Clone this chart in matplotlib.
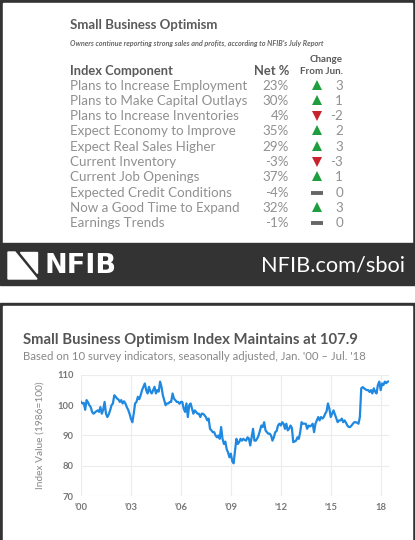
import matplotlib
matplotlib.use('Agg')
import matplotlib.pyplot as plt
from matplotlib.patches import Rectangle, Polygon
import numpy as np

plt.rcParams['font.family'] = ['Lato', 'DejaVu Sans']

# table data
components = ['Plans to Increase Employment', 'Plans to Make Capital Outlays',
              'Plans to Increase Inventories', 'Expect Economy to Improve',
              'Expect Real Sales Higher', 'Current Inventory',
              'Current Job Openings', 'Expected Credit Conditions',
              'Now a Good Time to Expand', 'Earnings Trends']
net_pct = [23, 30, 4, 35, 29, -3, 37, -4, 32, -1]
change = [3, 1, -2, 2, 3, -3, 1, 0, 3, 0]

# monthly index values, Jan 2000 - Jul 2018
idx = {
    2000: [101.1, 100.6, 100.8, 98.5, 101.7, 101.0, 100.0, 99.4, 97.8, 97.2, 97.6, 98.0],
    2001: [98.3, 97.8, 99.4, 97.2, 98.5, 101.1, 97.2, 96.1, 97.0, 98.3, 100.0, 100.6],
    2002: [103.3, 102.8, 102.2, 101.9, 101.1, 101.7, 100.6, 101.3, 100.6, 99.4, 98.5, 97.2],
    2003: [95.5, 94.4, 97.2, 100.6, 101.1, 102.8, 102.0, 103.3, 105.0, 106.1, 107.2, 105.0],
    2004: [103.9, 106.1, 104.5, 103.9, 105.0, 106.1, 103.9, 105.0, 104.5, 107.8, 106.1, 103.3],
    2005: [101.7, 100.0, 100.6, 100.6, 101.1, 101.1, 103.9, 102.2, 101.7, 101.1, 101.1, 100.5],
    2006: [101.1, 101.1, 98.9, 97.8, 100.6, 96.1, 100.0, 100.6, 98.9, 97.2, 98.3, 97.8],
    2007: [97.2, 97.2, 96.1, 97.2, 97.2, 96.7, 96.1, 95.0, 95.6, 92.2, 91.7, 91.1],
    2008: [91.1, 90.0, 89.4, 90.0, 88.9, 92.8, 88.9, 87.2, 88.0, 85.5, 84.4, 82.8],
    2009: [84.0, 81.5, 80.8, 85.0, 88.9, 87.2, 87.8, 88.9, 88.3, 88.9, 88.5, 88.3],
    2010: [89.4, 89.0, 86.7, 89.4, 92.2, 88.3, 88.3, 89.0, 90.0, 91.7, 93.3, 92.8],
    2011: [94.4, 91.7, 91.1, 90.6, 90.6, 90.0, 88.3, 89.4, 91.1, 91.5, 93.3, 93.9],
    2012: [93.3, 94.4, 93.9, 92.2, 93.9, 91.7, 92.2, 93.3, 92.5, 87.8, 88.0, 88.3],
    2013: [89.4, 88.9, 91.1, 94.4, 93.9, 93.9, 93.9, 92.2, 93.3, 93.0, 93.3, 93.9],
    2014: [91.1, 93.9, 95.0, 96.1, 95.0, 96.1, 95.6, 96.1, 97.2, 98.0, 100.6, 98.9],
    2015: [96.1, 97.2, 98.3, 97.0, 95.6, 94.4, 95.0, 95.0, 95.6, 94.4, 95.0, 94.2],
    2016: [93.3, 92.8, 92.8, 93.3, 93.9, 94.4, 94.4, 94.2, 93.9, 96.1, 105.6, 106.0],
    2017: [105.6, 105.3, 105.0, 105.0, 104.4, 105.0, 103.9, 105.6, 104.5, 103.9, 106.7, 107.8],
    2018: [105.0, 107.2, 106.7, 107.8, 107.3, 107.8, 107.9],
}
x_ticks = [2000, 2003, 2006, 2009, 2012, 2015, 2018]
x_ticklabels = ["'00", "'03", "'06", "'09", "'12", "'15", "18"]
y_ticks = [70, 80, 90, 100, 110]

W, H = 415, 540
dark = '#333333'
fig = plt.figure(figsize=(W / 100, H / 100), dpi=100)

# background in pixel coordinates
bg = fig.add_axes([0, 0, 1, 1])
bg.set_xlim(0, W)
bg.set_ylim(H, 0)
bg.axis('off')
bg.add_patch(Rectangle((0, 0), W, 243, color=dark))
bg.add_patch(Rectangle((2.5, 2.5), 409.5, 241, color='white'))
bg.add_patch(Rectangle((0, 243), W, 42, color=dark))
bg.add_patch(Rectangle((0, 303), W, 240, color=dark))
bg.add_patch(Rectangle((2.5, 305.5), 409.5, 240, color='white'))

# logo
bg.add_patch(Polygon([(8, 252), (15, 252), (37, 279), (8, 279)], color='white'))
bg.add_patch(Polygon([(20, 252), (37, 252), (37, 273)], color='white'))
bg.text(44, 266, 'NFIB', color='white', fontsize=19.5, fontweight='black',
        va='center', ha='left', family=['DejaVu Sans'])
bg.text(405, 265, 'NFIB.com/sboi', color='white', fontsize=15.7, va='center', ha='right')

# table
bg.text(70, 25, 'Small Business Optimism', color='#5a5a5a', fontsize=9.5,
        fontweight='bold', va='center')
bg.text(70, 43, "Owners continue reporting strong sales and profits, according to NFIB's July Report",
        color='#666666', fontsize=5.2, fontweight='bold', style='italic', va='center')
bg.text(70, 71, 'Index Component', color='#5a5a5a', fontsize=9.3, fontweight='bold', va='center')
bg.text(289, 71, 'Net %', color='#5a5a5a', fontsize=9.3, fontweight='bold', va='center', ha='right')
bg.text(343, 60, 'Change', color='#5a5a5a', fontsize=7, fontweight='bold', va='center', ha='right')
bg.text(343, 72, 'From Jun.', color='#5a5a5a', fontsize=7, fontweight='bold', va='center', ha='right')

row_y = 85.5 + 15.3 * np.arange(len(components))
for y, name, net, ch in zip(row_y, components, net_pct, change):
    bg.text(70, y, name, color='#909090', fontsize=9.6, va='center')
    bg.text(289, y, f'{net}%', color='#909090', fontsize=9.6, va='center', ha='right')
    bg.text(343, y, f'{ch}', color='#909090', fontsize=9.6, va='center', ha='right')
    if ch > 0:
        bg.plot(317, y - 1, marker='^', color='#1e9e3e', markersize=7, mew=0)
    elif ch < 0:
        bg.plot(317, y, marker='v', color='#c8232a', markersize=7, mew=0)
    else:
        bg.plot(317, y, marker='_', color='#666666', markersize=8, mew=2.8)

# line chart
bg.text(23, 340, 'Small Business Optimism Index Maintains at 107.9', color='#555555',
        fontsize=10.7, fontweight='bold', va='center')
bg.text(23, 356, "Based on 10 survey indicators, seasonally adjusted, Jan. '00 \u2013 Jul. '18",
        color='#888888', fontsize=8.2, va='center')

values = np.concatenate([idx[y] for y in sorted(idx)])
dates = 2000 + np.arange(len(values)) / 12

ax = fig.add_axes([81 / W, 1 - 496 / H, (389 - 81) / W, (496 - 375) / H])
ax.plot(dates, values, color='#1f88e0', linewidth=1.6, solid_joinstyle='round')
ax.set_xlim(2000, 2018.5)
ax.set_ylim(70, 110)
ax.set_xticks(x_ticks)
ax.set_xticklabels(x_ticklabels)
ax.set_yticks(y_ticks)
ax.grid(True, color='#ececec', linewidth=0.8)
ax.set_axisbelow(True)
for s in ax.spines.values():
    s.set_visible(False)
ax.tick_params(length=0, labelsize=6.8, labelcolor='#777777', pad=5)
for lab in ax.get_xticklabels() + ax.get_yticklabels():
    lab.set_fontweight('bold')
ax.set_ylabel('Index Value (1986=100)', color='#888888', fontsize=7.3, labelpad=9)
ax.patch.set_alpha(0)

fig.savefig('out.png', dpi=100)
